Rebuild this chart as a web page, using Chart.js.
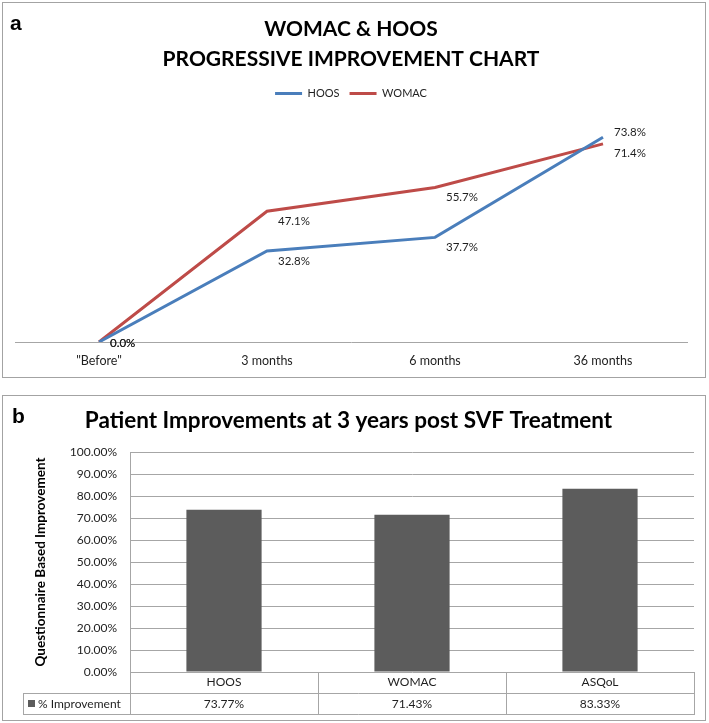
<!DOCTYPE html>
<html>
<head>
<meta charset="utf-8">
<title>WOMAC & HOOS / Patient Improvements</title>
<script src="https://cdn.jsdelivr.net/npm/chart.js@4.4.0/dist/chart.umd.min.js"></script>
<style>
    html, body { margin: 0; padding: 0; background: #fff; }
    body { width: 709px; height: 723px; position: relative; overflow: hidden; font-family: Lato, sans-serif; }
    .panel { position: absolute; left: 2px; width: 702px; border: 1px solid #a3a3a3; background: #fff; }
    #panelA { top: 2px; height: 374px; }
    #panelB { top: 395px; height: 324px; }
    .panel canvas { position: absolute; left: 0; top: 0; }
    .tag { position: absolute; z-index: 2; font-family: 'Liberation Sans', Arial, sans-serif; font-weight: bold; font-size: 21px; line-height: 21px; color: #000; }
</style>
</head>
<body>
<div class="tag" style="left:10px; top:12px;">a</div>
<div class="tag" style="left:12px; top:405px;">b</div>
<div class="panel" id="panelA"><canvas id="progressChart" width="702" height="374"></canvas></div>
<div class="panel" id="panelB"><canvas id="improvementChart" width="702" height="324"></canvas></div>
<script>
(function () {
    'use strict';

    // panel a
    const stages = ['"Before"', '3 months', '6 months', '36 months'];
    const hoosValues = [0, 32.8, 37.7, 73.8];
    const womacValues = [0, 47.1, 55.7, 71.4];

    // panel b
    const measures = ['HOOS', 'WOMAC', 'ASQoL'];
    const improvementValues = [73.77, 71.43, 83.33];
    const percentTicks = [0, 10, 20, 30, 40, 50, 60, 70, 80, 90, 100];

    const textColor = '#1f1f1f';
    const lineGrey = '#a6a6a6';

    function font(size, bold) {
        return { family: 'Lato', size: size, weight: bold ? 'bold' : 'normal', lineHeight: 1.2 };
    }

    // pushes the plot down a bit below the legend
    const legendGap = {
        id: 'legendGap',
        beforeInit(chart) {
            const originalFit = chart.legend.fit;
            chart.legend.fit = function fit() {
                originalFit.bind(chart.legend)();
                this.height += 11;
            };
        }
    };

    // value labels to the lower right of each point
    const pointLabels = {
        id: 'pointLabels',
        afterDatasetsDraw(chart) {
            const ctx = chart.ctx;
            const metas = chart.data.datasets.map(function (ds, i) {
                return chart.getDatasetMeta(i);
            });

            ctx.save();
            ctx.font = '11.5px Lato';
            ctx.fillStyle = textColor;
            ctx.textAlign = 'left';
            ctx.textBaseline = 'middle';

            metas.forEach(function (meta, di) {
                const values = chart.data.datasets[di].data;
                meta.data.forEach(function (pt, i) {
                    let dy = 10;
                    metas.forEach(function (other, oi) {
                        if (oi === di) {
                            return;
                        }
                        const gap = other.data[i].y - pt.y;
                        if (Math.abs(gap) < 15) {
                            dy = gap > 0 ? -5 : (gap < 0 ? 9 : 1);
                        }
                    });
                    ctx.fillText(values[i].toFixed(1) + '%', pt.x + 11, pt.y + dy);
                });
            });
            ctx.restore();
        }
    };

    // the Excel style data table under the bars
    const dataTable = {
        id: 'dataTable',
        afterDraw(chart) {
            const ctx = chart.ctx;
            const area = chart.chartArea;
            const x = chart.scales.x;
            const rowHeight = 21;
            const top = area.bottom;
            const mid = top + rowHeight;
            const bottom = mid + rowHeight;
            const keyLeft = 20;
            const step = x.getPixelForValue(1) - x.getPixelForValue(0);

            ctx.save();
            ctx.strokeStyle = lineGrey;
            ctx.lineWidth = 1;
            ctx.beginPath();
            [mid, bottom].forEach(function (y) {
                ctx.moveTo(keyLeft, Math.round(y) + 0.5);
                ctx.lineTo(area.right + 0.5, Math.round(y) + 0.5);
            });
            ctx.moveTo(keyLeft + 0.5, Math.round(mid));
            ctx.lineTo(keyLeft + 0.5, Math.round(bottom) + 1);
            for (let i = 0; i <= measures.length; i++) {
                const px = Math.round(x.getPixelForValue(i) - step / 2) + 0.5;
                ctx.moveTo(px, Math.round(top));
                ctx.lineTo(px, Math.round(bottom) + 1);
            }
            ctx.stroke();

            ctx.fillStyle = '#5c5c5c';
            ctx.fillRect(keyLeft + 5, mid + 7, 7, 7);

            ctx.fillStyle = textColor;
            ctx.font = '12px Lato';
            ctx.textBaseline = 'middle';
            ctx.textAlign = 'left';
            ctx.fillText(chart.data.datasets[0].label, keyLeft + 15, mid + rowHeight / 2 + 0.5);

            ctx.textAlign = 'center';
            improvementValues.forEach(function (value, i) {
                ctx.fillText(value.toFixed(2) + '%', x.getPixelForValue(i), mid + rowHeight / 2 + 0.5);
            });
            ctx.restore();
        }
    };

    new Chart(document.getElementById('progressChart'), {
        type: 'line',
        data: {
            labels: stages,
            datasets: [{
                label: 'HOOS',
                data: hoosValues,
                borderColor: '#4a7ebb',
                backgroundColor: '#4a7ebb',
                borderWidth: 3,
                pointRadius: 0,
                tension: 0
            }, {
                label: 'WOMAC',
                data: womacValues,
                borderColor: '#be4b48',
                backgroundColor: '#be4b48',
                borderWidth: 3,
                pointRadius: 0,
                tension: 0
            }]
        },
        options: {
            responsive: false,
            animation: false,
            layout: { padding: { left: 12, right: 18, top: 0, bottom: 0 } },
            plugins: {
                title: {
                    display: true,
                    text: ['WOMAC & HOOS', 'PROGRESSIVE IMPROVEMENT CHART'],
                    color: '#000',
                    font: { family: 'Lato', size: 21, weight: 'bold', lineHeight: 30 / 21 },
                    padding: { top: 11, bottom: 4 }
                },
                legend: {
                    labels: {
                        usePointStyle: true,
                        pointStyle: 'line',
                        pointStyleWidth: 27,
                        color: textColor,
                        font: font(11),
                        padding: 10
                    }
                },
                tooltip: { enabled: false }
            },
            scales: {
                x: {
                    offset: true,
                    grid: { display: false, drawTicks: false },
                    border: { color: lineGrey },
                    ticks: { color: textColor, font: font(12.5), padding: 11 },
                    afterFit(scale) { scale.height = 35; }
                },
                y: { display: false, min: 0, max: 80 }
            }
        },
        plugins: [legendGap, pointLabels]
    });

    new Chart(document.getElementById('improvementChart'), {
        type: 'bar',
        data: {
            labels: measures,
            datasets: [{
                label: '% Improvement',
                data: improvementValues,
                backgroundColor: '#5c5c5c',
                barPercentage: 0.4,
                categoryPercentage: 1
            }]
        },
        options: {
            responsive: false,
            animation: false,
            layout: { padding: { left: 0, right: 11, top: 0, bottom: 0 } },
            plugins: {
                title: {
                    display: true,
                    text: 'Patient Improvements at 3 years post SVF Treatment',
                    color: '#000',
                    font: { family: 'Lato', size: 22.5, weight: 'bold', lineHeight: 24 / 22.5 },
                    padding: { top: 13, bottom: 19 }
                },
                legend: { display: false },
                tooltip: { enabled: false }
            },
            scales: {
                x: {
                    grid: { display: false, drawTicks: false },
                    border: { display: false },
                    ticks: { color: textColor, font: font(12), padding: 3 },
                    afterFit(scale) { scale.height = 48; }
                },
                y: {
                    min: 0,
                    max: 100,
                    afterBuildTicks(scale) {
                        scale.ticks = percentTicks.map(function (v) { return { value: v }; });
                    },
                    grid: { color: lineGrey, drawTicks: false },
                    border: { color: lineGrey },
                    ticks: {
                        color: textColor,
                        font: font(12),
                        padding: 13,
                        callback: function (value) { return Number(value).toFixed(2) + '%'; }
                    },
                    title: {
                        display: true,
                        text: 'Questionnaire Based Improvement',
                        color: '#000',
                        font: font(13.5, true),
                        padding: { top: 30, bottom: 0 }
                    },
                    afterFit(scale) { scale.width = 127; }
                }
            }
        },
        plugins: [dataTable]
    });
})();
</script>
</body>
</html>
